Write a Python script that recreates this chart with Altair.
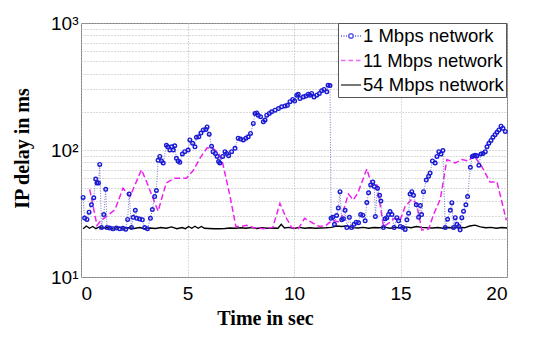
import altair as alt
import pandas as pd

# ---- data (time in s, IP delay in ms) ----
series_names = ["1 Mbps network", "11 Mbps network", "54 Mbps network"]

delay_1mbps = [
    (0.10, 42.3), (0.17, 29.1), (0.28, 28.4), (0.38, 32.4), (0.49, 37), (0.60, 42),
    (0.69, 59), (0.75, 55), (0.82, 55), (0.88, 77), (0.96, 24.5), (1.07, 31),
    (1.16, 49), (1.22, 24.5), (1.35, 24.3), (1.50, 24.0), (1.66, 24.3), (1.82, 24.0),
    (1.97, 24.2), (2.10, 23.8), (2.19, 28.4), (2.26, 45), (2.37, 24.5), (2.45, 29.5),
    (2.55, 33.5), (2.62, 29), (2.75, 28.6), (2.88, 28.2), (2.99, 24.5), (3.12, 24.0),
    (3.26, 29), (3.35, 34), (3.46, 43), (3.54, 48), (3.62, 83), (3.70, 89),
    (3.78, 82), (3.86, 79), (4.01, 109), (4.08, 106), (4.17, 100), (4.26, 106),
    (4.33, 100), (4.40, 108), (4.48, 86), (4.56, 82), (4.64, 80), (4.76, 93),
    (4.87, 97), (5.03, 100), (5.11, 120), (5.24, 113), (5.35, 106), (5.42, 126),
    (5.53, 127), (5.63, 136), (5.74, 144), (5.86, 145), (5.92, 152), (6.02, 133),
    (6.13, 107), (6.20, 97), (6.31, 94), (6.39, 89), (6.46, 81), (6.52, 79),
    (6.65, 89), (6.76, 97), (6.84, 94), (6.93, 90), (7.07, 97), (7.23, 103),
    (7.38, 124), (7.49, 122), (7.62, 120), (7.74, 124), (7.85, 127), (7.96, 135),
    (8.09, 162), (8.17, 194), (8.25, 196), (8.32, 188), (8.43, 183), (8.56, 167),
    (8.64, 172), (8.72, 188), (8.84, 194), (8.95, 200), (9.11, 206), (9.27, 212),
    (9.42, 219), (9.58, 222), (9.69, 225), (9.81, 240), (9.94, 250), (10.03, 243),
    (10.13, 270), (10.20, 275), (10.28, 254), (10.44, 262), (10.56, 266), (10.67, 275),
    (10.75, 270), (10.83, 279), (10.94, 262), (11.07, 270), (11.19, 279), (11.30, 293),
    (11.41, 300), (11.54, 287), (11.60, 324), (11.69, 322), (11.74, 29), (11.82, 29.5),
    (11.90, 26), (12.00, 30.5), (12.08, 35), (12.16, 47), (12.24, 28.2), (12.32, 28.7),
    (12.40, 33.5), (12.48, 24.5), (12.60, 29.5), (12.70, 24.5), (12.82, 26), (12.92, 27),
    (13.03, 26.7), (13.13, 31), (13.23, 30.7), (13.34, 27.7), (13.42, 38.6), (13.50, 46),
    (13.60, 53), (13.70, 56), (13.77, 51.5), (13.82, 30), (13.92, 50), (14.02, 44),
    (14.08, 39.6), (14.20, 24.5), (14.28, 28.7), (14.36, 29.3), (14.44, 31), (14.51, 32.8),
    (14.60, 31), (14.70, 24.5), (14.83, 29.3), (14.91, 27.7), (14.99, 25), (15.11, 24.5),
    (15.22, 23.7), (15.30, 28.2), (15.38, 31.8), (15.45, 45), (15.53, 47), (15.61, 44),
    (15.74, 37), (15.85, 29.5), (15.93, 36.5), (15.99, 31), (16.08, 47), (16.21, 58),
    (16.32, 62), (16.39, 66), (16.50, 82), (16.63, 79), (16.71, 89), (16.80, 97),
    (16.90, 93), (16.99, 99), (17.10, 24.5), (17.21, 28.5), (17.34, 33.5), (17.41, 38.5),
    (17.49, 24.5), (17.57, 29.3), (17.65, 26), (17.73, 25), (17.80, 23.5), (17.88, 29.3),
    (17.96, 33), (18.07, 37), (18.15, 43), (18.28, 73), (18.37, 89), (18.43, 90),
    (18.51, 91), (18.59, 90), (18.68, 76), (18.78, 93), (18.87, 94), (18.98, 97),
    (19.06, 106), (19.15, 113), (19.25, 119), (19.34, 126), (19.44, 132), (19.53, 138),
    (19.62, 144), (19.72, 154), (19.81, 148), (19.92, 140),
]

delay_11mbps = [
    (0.41, 49), (0.75, 25.5), (0.90, 27.5), (1.20, 30), (1.60, 34), (1.97, 50),
    (2.30, 43), (2.84, 70), (3.10, 55), (3.62, 33), (4.00, 55), (4.40, 60),
    (4.95, 60), (5.27, 69), (5.58, 86), (5.92, 104), (6.20, 103), (6.45, 95),
    (6.65, 79), (7.00, 43), (7.27, 25), (7.50, 25), (7.77, 25.5), (8.10, 24.5),
    (8.56, 24), (9.00, 24.5), (9.34, 38), (9.60, 30), (9.89, 24.5), (10.20, 24),
    (10.50, 29), (10.90, 26.5), (11.20, 25), (11.50, 25.5), (11.80, 28), (12.16, 27),
    (12.55, 45), (12.79, 40.5), (13.00, 46), (13.42, 71), (13.65, 53), (13.90, 53),
    (14.20, 25), (14.45, 26.5), (14.70, 29), (14.98, 28), (15.22, 36), (15.53, 41),
    (15.75, 38), (16.00, 23.5), (16.32, 23.8), (16.55, 31), (16.87, 41), (17.18, 84),
    (17.57, 79), (17.88, 84), (18.20, 82), (18.43, 91), (18.82, 74), (19.20, 56),
    (19.53, 56), (19.97, 28),
]

delay_54mbps = [
    (0.10, 24.0), (0.25, 25.2), (0.40, 24.2), (0.55, 25.0), (0.70, 24.0), (0.85, 24.8),
    (1.00, 24.2), (1.25, 24.5), (1.50, 24.0), (1.75, 24.6), (2.00, 24.2), (2.25, 24.4),
    (2.50, 24.1), (2.75, 24.5), (3.00, 24.0), (3.25, 24.3), (3.50, 24.1), (3.75, 24.5),
    (4.00, 24.2), (4.25, 24.8), (4.50, 24.0), (4.75, 24.5), (4.90, 24.0), (5.05, 25.0),
    (5.20, 24.2), (5.35, 25.1), (5.50, 24.2), (5.65, 25.0), (5.80, 24.2), (6.00, 24.1),
    (6.25, 24.0), (6.50, 24.0), (6.75, 24.1), (7.00, 24.3), (7.25, 24.2), (7.50, 24.4),
    (7.75, 24.2), (8.00, 24.5), (8.25, 24.1), (8.50, 24.4), (8.75, 24.2), (9.00, 24.3),
    (9.25, 24.2), (9.40, 26.0), (9.55, 24.3), (9.75, 24.6), (10.00, 24.1), (10.25, 24.6),
    (10.50, 24.2), (10.75, 24.4), (11.00, 24.2), (11.25, 24.3), (11.50, 24.4), (11.75, 24.6),
    (12.00, 25.2), (12.25, 25.0), (12.50, 25.3), (12.75, 24.5), (13.00, 24.3), (13.25, 24.6),
    (13.50, 24.2), (13.75, 24.5), (14.00, 24.4), (14.25, 24.7), (14.50, 24.2), (14.75, 24.6),
    (15.00, 24.3), (15.25, 24.8), (15.50, 24.4), (15.75, 25.0), (16.00, 24.6), (16.25, 24.4),
    (16.50, 24.3), (16.75, 24.5), (17.00, 24.2), (17.25, 24.5), (17.50, 24.3), (17.75, 24.7),
    (18.00, 24.4), (18.25, 25.2), (18.50, 25.6), (18.75, 24.8), (19.00, 24.4), (19.25, 24.6),
    (19.50, 24.2), (19.75, 24.5), (20.00, 24.3),
]

x_ticks = [0, 5, 10, 15, 20]
y_grid = [10, 20, 30, 40, 50, 60, 70, 80, 90, 100,
          200, 300, 400, 500, 600, 700, 800, 900, 1000]

# ---- styles ----
series_colors = ["#1a1ad6", "#ee22ee", "#000000"]
legend_shapes = [
    "M-1,0h0.1M-0.75,0h0.1M-0.5,0h0.1M0.4,0h0.1M0.65,0h0.1M0.9,0h0.1"
    "M0.22,0A0.22,0.22 0 1,1 -0.22,0A0.22,0.22 0 1,1 0.22,0Z",
    "M-1,0H-0.55M-0.25,0H0.2M0.5,0H0.95",
    "M-1,0H1",
]

frames = []
for name, pairs in zip(series_names, [delay_1mbps, delay_11mbps, delay_54mbps]):
    frames.append(pd.DataFrame({"t": [p[0] for p in pairs],
                                "v": [p[1] for p in pairs],
                                "s": name}))
df = pd.concat(frames, ignore_index=True)

x_enc = alt.X(
    "t:Q",
    scale=alt.Scale(domain=[0, 20], nice=False),
    axis=alt.Axis(values=x_ticks, title="Time in sec", labelPadding=7,
                  titleX=184, titleY=47, titleBaseline="alphabetic"),
)
y_enc = alt.Y(
    "v:Q",
    scale=alt.Scale(type="log", domain=[10, 1000], nice=False),
    axis=alt.Axis(
        values=y_grid,
        labelExpr="datum.value == 10 ? '10¹' : datum.value == 100 ? '10²' : datum.value == 1000 ? '10³' : ''",
        labelOverlap=False,
        labelPadding=3,
        title="IP delay in ms",
        titleX=-53, titleY=125, titleBaseline="alphabetic",
    ),
)

base = alt.Chart(df).encode(x=x_enc, y=y_enc)

line54 = base.transform_filter(alt.datum.s == series_names[2]).mark_line(
    color="#000000", strokeWidth=1.4)
line11 = base.transform_filter(alt.datum.s == series_names[1]).mark_line(
    color="#ee22ee", strokeWidth=1.5, strokeDash=[6, 3])
line1 = base.transform_filter(alt.datum.s == series_names[0]).mark_line(
    color="#7878c8", strokeWidth=1, strokeDash=[1, 1.5])
pts1 = base.transform_filter(alt.datum.s == series_names[0]).mark_point(
    shape="circle", filled=False, color="#1a1ad6", size=13, strokeWidth=1.4, opacity=1)

leg = alt.Legend(title=None, orient="none", legendX=257, legendY=0,
                 labelFont="Liberation Sans", labelFontSize=18.5, labelColor="#000",
                 labelOffset=1, padding=2, rowPadding=3.5, symbolSize=400,
                 symbolStrokeWidth=1.5, fillColor="#ffffff", strokeColor="#555555")
legend_layer = base.transform_filter("false").mark_point(filled=False).encode(
    color=alt.Color("s:N", scale=alt.Scale(domain=series_names, range=series_colors), legend=leg),
    shape=alt.Shape("s:N", scale=alt.Scale(domain=series_names, range=legend_shapes), legend=leg),
)

chart = alt.layer(line54, line11, line1, pts1, legend_layer).properties(
    width=426, height=254,
    padding={"left": 73, "top": 15, "right": 31, "bottom": 52},
    autosize=alt.AutoSizeParams(type="none"),
).configure_view(
    stroke="#808080", strokeWidth=1
).configure_axis(
    labelFont="Liberation Sans", labelFontSize=19, labelColor="#000",
    titleFont="Liberation Serif", titleFontWeight="bold", titleFontSize=20, titleColor="#000",
    grid=True, gridColor="#b4b4b4", gridDash=[1, 2], gridWidth=1,
    domain=False, ticks=False,
)

chart.save("out.html", embed_options={"renderer": "svg", "actions": False})
